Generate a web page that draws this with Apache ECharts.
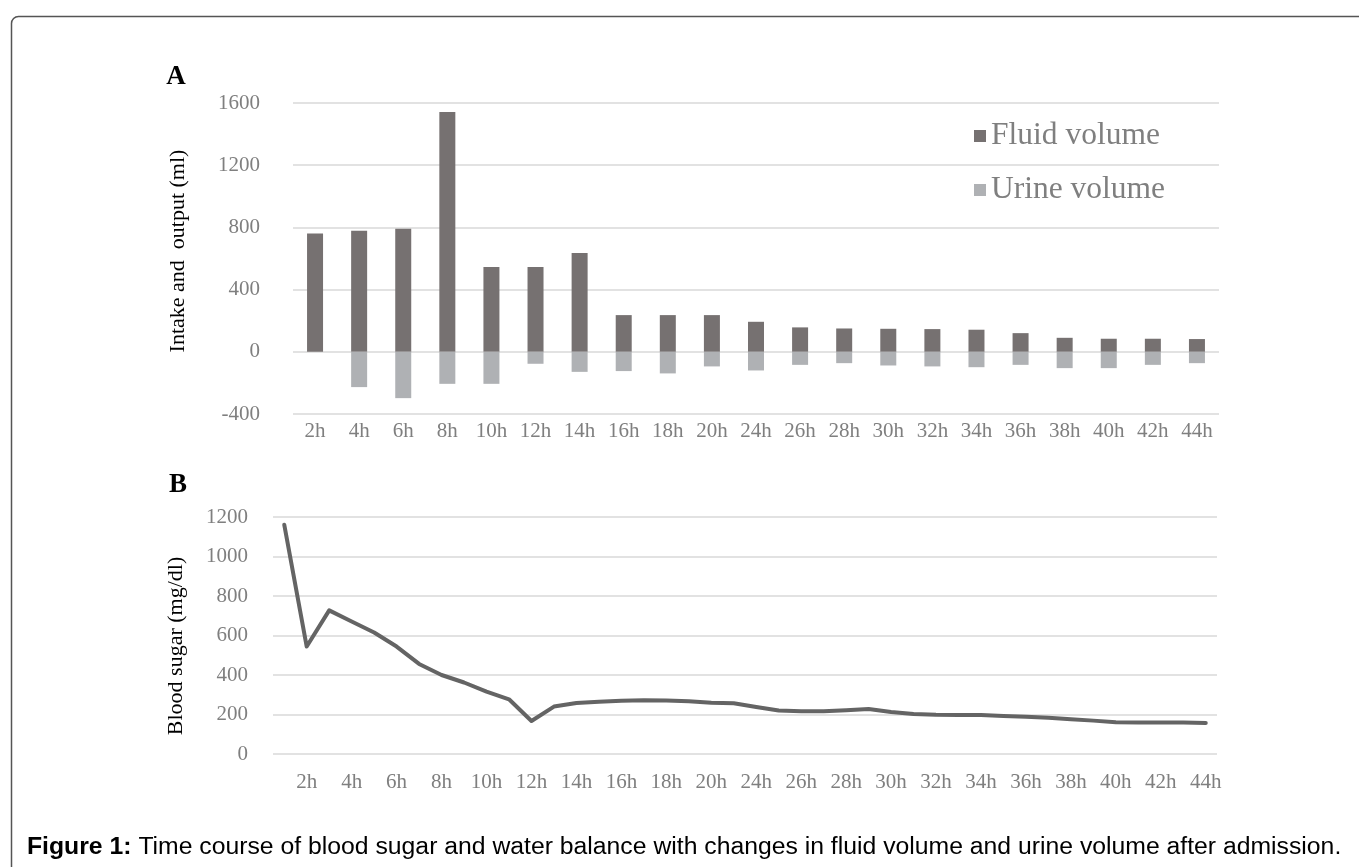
<!DOCTYPE html>
<html>
<head>
<meta charset="utf-8">
<script src="https://cdn.jsdelivr.net/npm/echarts@6/dist/echarts.min.js"></script>
<style>
  html, body { margin: 0; padding: 0; background: #fff; }
  #chart { width: 1359px; height: 867px; }
</style>
</head>
<body>
<div id="chart"></div>
<script>
// panel A: intake / output every 2h
const hours = ['2h', '4h', '6h', '8h', '10h', '12h', '14h', '16h', '18h', '20h', '24h',
  '26h', '28h', '30h', '32h', '34h', '36h', '38h', '40h', '42h', '44h']
const fluidVolume = [761, 778, 791, 1542, 545, 545, 635, 236, 236, 236, 193,
  157, 150, 148, 146, 142, 120, 90, 84, 84, 82]
const urineVolume = [0, -227, -298, -206, -206, -77, -129, -124, -139, -94, -120,
  -84, -73, -88, -94, -99, -84, -105, -105, -84, -73]

// panel B: blood sugar, one point per hour, labels on every other point
const sugarLabels = ['', '2h', '', '4h', '', '6h', '', '8h', '', '10h', '', '12h', '', '14h',
  '', '16h', '', '18h', '', '20h', '', '24h', '', '26h', '', '28h', '', '30h', '', '32h',
  '', '34h', '', '36h', '', '38h', '', '40h', '', '42h', '', '44h']
const bloodSugar = [1161, 544, 727, 671, 615, 544, 456, 400, 362, 316, 277, 167, 240, 258,
  265, 269, 272, 271, 267, 260, 257, 238, 220, 217, 216, 222, 228, 213, 203, 199,
  198, 198, 193, 188, 183, 176, 169, 161, 159, 159, 159, 157]

const serif = "'Liberation Serif', 'Times New Roman', serif"
const sans = "'Liberation Sans', Arial, sans-serif"
const tickColor = '#7f7f7f'
const gridColor = '#d9d9d9'
const plain = v => String(v) // no thousands separator

const chart = echarts.init(document.getElementById('chart'))
chart.setOption({
  animation: false,
  textStyle: { fontFamily: serif },
  grid: [
    { left: 293, right: 140, top: 103, bottom: 453 },
    { left: 273, right: 142, top: 517, bottom: 113 }
  ],
  legend: {
    orient: 'vertical',
    left: 969,
    top: 115,
    icon: 'rect',
    itemWidth: 12,
    itemHeight: 12,
    itemGap: 22,
    textStyle: { fontFamily: serif, fontSize: 31.5, color: '#7f7f7f' },
    data: ['Fluid volume', 'Urine volume']
  },
  xAxis: [
    {
      gridIndex: 0,
      type: 'category',
      data: hours,
      axisLine: { show: false },
      axisTick: { show: false },
      axisLabel: { color: tickColor, fontSize: 21, margin: 7, interval: 0 }
    },
    {
      gridIndex: 1,
      type: 'category',
      data: sugarLabels,
      axisLine: { show: false },
      axisTick: { show: false },
      axisLabel: { color: tickColor, fontSize: 21, margin: 18, interval: 0 }
    }
  ],
  yAxis: [
    {
      gridIndex: 0,
      type: 'value',
      min: -400,
      max: 1600,
      interval: 400,
      axisLabel: { color: tickColor, fontSize: 21, margin: 33, formatter: plain },
      splitLine: { lineStyle: { color: gridColor, width: 1.5 } }
    },
    {
      gridIndex: 1,
      type: 'value',
      min: 0,
      max: 1200,
      interval: 200,
      axisLabel: { color: tickColor, fontSize: 21, margin: 25, formatter: plain },
      splitLine: { lineStyle: { color: gridColor, width: 1.5 } }
    }
  ],
  graphic: [
    {
      type: 'rect',
      shape: { x: 11.5, y: 16.5, width: 1420, height: 900, r: 7 },
      style: { fill: 'none', stroke: '#555', lineWidth: 1.5 }
    },
    {
      type: 'text', x: 176, y: 77,
      style: { text: 'A', font: 'bold 27px ' + serif, fill: '#000', textAlign: 'center', textVerticalAlign: 'middle' }
    },
    {
      type: 'text', x: 178, y: 485,
      style: { text: 'B', font: 'bold 27px ' + serif, fill: '#000', textAlign: 'center', textVerticalAlign: 'middle' }
    },
    {
      type: 'text', x: 178, y: 251, rotation: Math.PI / 2,
      style: { text: 'Intake and  output (ml)', font: '22px ' + serif, fill: '#000', textAlign: 'center', textVerticalAlign: 'middle' }
    },
    {
      type: 'text', x: 176, y: 646, rotation: Math.PI / 2,
      style: { text: 'Blood sugar (mg/dl)', font: '22px ' + serif, fill: '#000', textAlign: 'center', textVerticalAlign: 'middle' }
    },
    {
      type: 'text', x: 27, y: 847,
      style: {
        text: '{b|Figure 1:} Time course of blood sugar and water balance with changes in fluid volume and urine volume after admission.',
        font: '24.75px ' + sans,
        fill: '#000',
        textVerticalAlign: 'middle',
        rich: {
          b: { fontWeight: 'bold', fontSize: 24.75, fontFamily: sans }
        }
      }
    }
  ],
  series: [
    {
      name: 'Fluid volume',
      type: 'bar',
      xAxisIndex: 0,
      yAxisIndex: 0,
      stack: 'io',
      barWidth: 16,
      itemStyle: { color: '#767171' },
      data: fluidVolume
    },
    {
      name: 'Urine volume',
      type: 'bar',
      xAxisIndex: 0,
      yAxisIndex: 0,
      stack: 'io',
      barWidth: 16,
      itemStyle: { color: '#afb1b4' },
      data: urineVolume
    },
    {
      name: 'Blood sugar',
      type: 'line',
      xAxisIndex: 1,
      yAxisIndex: 1,
      showSymbol: false,
      lineStyle: { color: '#646464', width: 4, cap: 'round', join: 'round' },
      data: bloodSugar
    }
  ]
})
</script>
</body>
</html>
